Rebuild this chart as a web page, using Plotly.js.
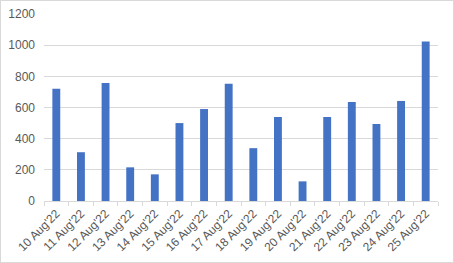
<!DOCTYPE html>
<html>
<head>
<meta charset="utf-8">
<script src="https://cdn.plot.ly/plotly-3.0.1.min.js"></script>
<style>
  html, body { margin: 0; padding: 0; background: #fff; }
  #wrap { position: relative; width: 454px; height: 263px; }
  #chart { width: 454px; height: 263px; }
  #frame { position: absolute; left: 0; top: 0; width: 452px; height: 261px; border: 1px solid #d9d9d9; pointer-events: none; }
</style>
</head>
<body>
<div id="wrap"><div id="chart"></div><div id="frame"></div></div>
<script>
const categories = ["10 Aug'22","11 Aug'22","12 Aug'22","13 Aug'22","14 Aug'22","15 Aug'22","16 Aug'22","17 Aug'22","18 Aug'22","19 Aug'22","20 Aug'22","21 Aug'22","22 Aug'22","23 Aug'22","24 Aug'22","25 Aug'22"];
const values = [720, 313, 758, 216, 171, 500, 590, 752, 339, 539, 126, 539, 635, 494, 642, 1023];
const yTicks = [0, 200, 400, 600, 800, 1000, 1200];

const trace = {
  type: 'bar',
  x: categories,
  y: values,
  marker: { color: '#4472c4' },
  hoverinfo: 'none'
};

const layout = {
  width: 454,
  height: 263,
  margin: { l: 44, r: 16, t: 14, b: 62, pad: 0 },
  paper_bgcolor: '#ffffff',
  plot_bgcolor: '#ffffff',
  bargap: 0.68,
  showlegend: false,
  font: { family: 'Liberation Sans, Arial, sans-serif', size: 12, color: '#595959' },
  xaxis: {
    type: 'category',
    tickangle: -45,
    tickfont: { size: 12, color: '#595959' },
    showgrid: false,
    showline: true,
    linecolor: '#d9d9d9',
    linewidth: 1,
    ticks: 'outside',
    tickson: 'boundaries',
    ticklen: 4,
    tickcolor: '#d9d9d9',
    zeroline: false,
    fixedrange: true
  },
  yaxis: {
    range: [0, 1200],
    tickvals: yTicks,
    ticktext: yTicks.map(String),
    tickfont: { size: 12, color: '#595959' },
    showgrid: true,
    gridcolor: '#d9d9d9',
    gridwidth: 1,
    showline: false,
    zeroline: false,
    ticks: '',
    ticklabelstandoff: 8,
    fixedrange: true
  }
};

Plotly.newPlot('chart', [trace], layout, { displayModeBar: false, staticPlot: true });
</script>
</body>
</html>
